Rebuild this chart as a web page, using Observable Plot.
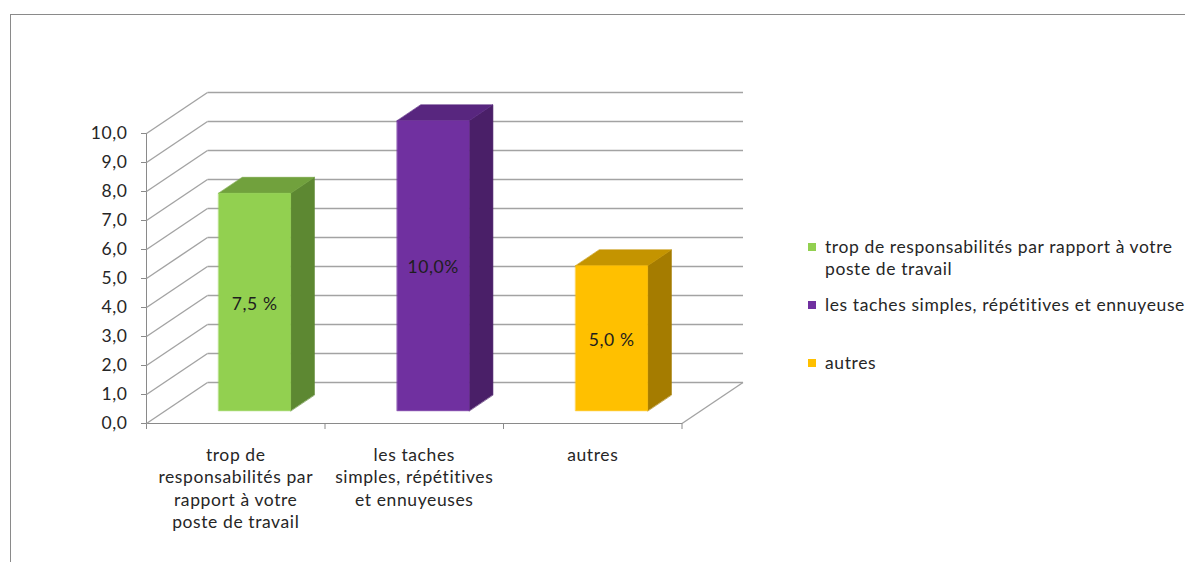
<!DOCTYPE html>
<html>
<head>
<meta charset="utf-8">
<script src="https://cdn.jsdelivr.net/npm/d3@7"></script>
<script src="https://cdn.jsdelivr.net/npm/@observablehq/plot@0.6"></script>
<style>
  html, body { margin: 0; padding: 0; background: #fff; width: 1185px; height: 562px; overflow: hidden; }
  #frame { position: absolute; left: 10px; top: 14px; width: 1400px; height: 800px; border: 1.5px solid #8a8a8a; box-sizing: border-box; }
  #chart { position: absolute; left: 0; top: 0; }
  #chart svg text { letter-spacing: 0.6px; }
  #chart svg [aria-label^="y-axis"] text, #chart svg [aria-label^="x-axis"] text { fill: #262626; }
  #legend { position: absolute; left: 808px; top: 0; font-family: Lato, "Open Sans", sans-serif; font-size: 17.5px; letter-spacing: 0.6px; color: #262626; }
  .item { position: absolute; left: 0; display: flex; line-height: 22px; white-space: pre; }
  .sw { width: 8px; height: 8px; margin-top: 7px; margin-right: 9px; flex: none; }
</style>
</head>
<body>
<div id="frame"></div>
<div id="chart"></div>
<div id="legend"></div>
<script>
// ---- data ----
const categories = [
  "trop de responsabilités par rapport à votre poste de travail",
  "les taches simples, répétitives et ennuyeuses",
  "autres"
];
const tickLabels = [
  "trop de\nresponsabilités par\nrapport à votre\nposte de travail",
  "les taches\nsimples, répétitives\net ennuyeuses",
  "autres"
];
const values = [7.5, 10.0, 5.0];
const valueLabels = ["7,5 %", "10,0%", "5,0 %"];
const legendLabels = [
  "trop de responsabilités par rapport à votre\nposte de travail",
  "les taches simples, répétitives et ennuyeuse",
  "autres"
];
const yTicks = [0, 1, 2, 3, 4, 5, 6, 7, 8, 9, 10];
const frontColors = ["#92D050", "#7030A0", "#FFC000"];
const topColors = ["#71A13D", "#58267F", "#C49400"];
const sideColors = ["#5D8832", "#4A1F68", "#A57C00"];

// ---- layout ----
const W = 1185, H = 562;
const plotLeft = 146, plotRight = 681.5, plotTop = 133, plotBottom = 423;
const depthPx = [61, -41];           // oblique offset of the back wall
const unitX = (plotRight - plotLeft) / categories.length;
const unitY = (plotBottom - plotTop) / 10;
const DX = depthPx[0] / unitX, DY = -depthPx[1] / unitY;
const z0 = 0.31, z1 = 0.70, half = 0.2016;
const proj = (u, v, z) => ({x: u + z * DX, y: v + z * DY});

const faceMarks = [];
values.forEach((v, i) => {
  const a = i + 0.5 - half, b = i + 0.5 + half;
  const side = [[b, 0, z0], [b, v, z0], [b, v, z1], [b, 0, z1]].map(p => proj(...p));
  const top = [[a, v, z0], [b, v, z0], [b, v, z1], [a, v, z1]].map(p => proj(...p));
  const front = [[a, 0, z0], [b, 0, z0], [b, v, z0], [a, v, z0]].map(p => proj(...p));
  faceMarks.push(Plot.line(side, {x: "x", y: "y", fill: sideColors[i], stroke: sideColors[i], strokeWidth: 0.6, curve: "linear-closed"}));
  faceMarks.push(Plot.line(top, {x: "x", y: "y", fill: topColors[i], stroke: topColors[i], strokeWidth: 0.6, curve: "linear-closed"}));
  faceMarks.push(Plot.line(front, {x: "x", y: "y", fill: frontColors[i], stroke: frontColors[i], strokeWidth: 0.6, curve: "linear-closed"}));
});

const gridColor = "#a3a3a3";
const fmt = d => d.toFixed(1).replace(".", ",");

const chart = Plot.plot({
  width: W, height: H,
  marginLeft: plotLeft, marginRight: W - plotRight, marginTop: plotTop, marginBottom: H - plotBottom,
  style: {fontFamily: "Lato, 'Open Sans', sans-serif", fontSize: "17.5px", color: "#8a8a8a", background: "transparent", overflow: "visible"},
  x: {type: "linear", domain: [0, categories.length], ticks: [0, 1, 2, 3], tickFormat: () => "", tickSize: 6, line: true, label: null},
  y: {domain: [0, 10], ticks: yTicks, tickFormat: fmt, tickSize: 5, tickPadding: 14, line: true, label: null},
  marks: [
    // back wall gridlines
    Plot.link(yTicks, {x1: DX, y1: d => d + DY, x2: categories.length + DX, y2: d => d + DY, stroke: gridColor, strokeWidth: 1.4}),
    // left wall diagonals
    Plot.link(yTicks, {x1: 0, y1: d => d, x2: DX, y2: d => d + DY, stroke: gridColor, strokeWidth: 1.4}),
    // floor right edge
    Plot.link([0], {x1: categories.length, y1: 0, x2: categories.length + DX, y2: DY, stroke: gridColor, strokeWidth: 1.4}),
    ...faceMarks,
    Plot.text(values, {
      x: (d, i) => proj(i + 0.5, d / 2, z0).x,
      y: (d, i) => proj(i + 0.5, d / 2, z0).y,
      text: (d, i) => valueLabels[i],
      fill: "#1e1e1e", fontSize: 17.5, dy: 2
    }),
    Plot.text(tickLabels, {
      x: (d, i) => i + 0.5, y: () => 0,
      text: d => d, lineAnchor: "top", dy: 21, lineHeight: 1.29,
      fill: "#262626", fontSize: 17.5
    })
  ]
});
document.getElementById("chart").appendChild(chart);

// legend
const legendCenters = [247, 305, 363];
const legend = document.getElementById("legend");
legendLabels.forEach((t, i) => {
  const it = document.createElement("div");
  it.className = "item";
  it.style.top = (legendCenters[i] - 11) + "px";
  const sw = document.createElement("div");
  sw.className = "sw";
  sw.style.background = frontColors[i];
  const tx = document.createElement("div");
  tx.textContent = t;
  it.appendChild(sw); it.appendChild(tx);
  legend.appendChild(it);
});
</script>
</body>
</html>
